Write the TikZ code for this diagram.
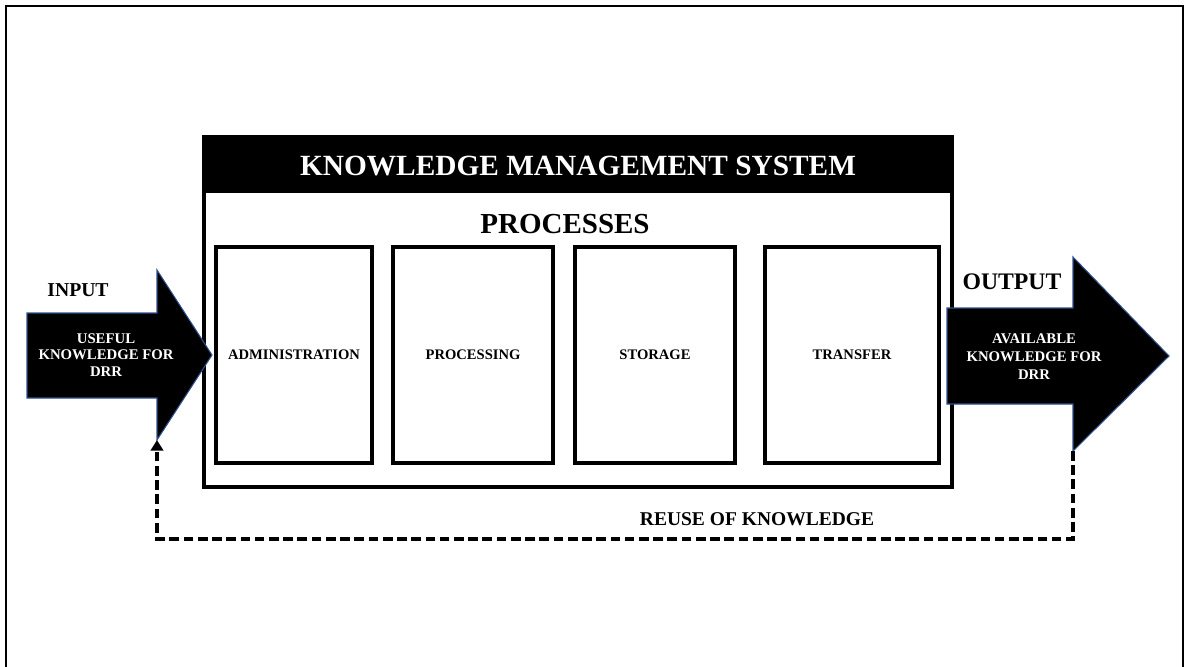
\documentclass[tikz,border=0pt]{standalone}
\usepackage{fontspec}
\setmainfont{Liberation Serif}
\usetikzlibrary{arrows.meta}

\definecolor{arrowedge}{RGB}{47,82,143}

\begin{document}
\begin{tikzpicture}[>=Latex, x=0.02cm, y=-0.02cm,
  procbox/.style={draw, line width=2pt, inner sep=0pt, minimum height=4.32cm},
  boxlabel/.style={font=\bfseries\fontsize{8.3}{10}\selectfont},
  arrowtext/.style={text=white, align=center, font=\bfseries\fontsize{8.4}{9.6}\selectfont},
  bigarrow/.style={fill=black, draw=arrowedge, line width=0.6pt},
  reuseline/.style={line width=2.1pt, dash pattern=on 5.5pt off 2.6pt}]

  \useasboundingbox (0,0) rectangle (1186,666);
  \draw[line width=1pt] (6,675) -- (6,6) -- (1183,6) -- (1183,675);


  \fill (204,137) rectangle (952,193);
  \draw[line width=2pt] (204,137) rectangle (952,487);

  \node[text=white, font=\bfseries\fontsize{16.7}{19}\selectfont] (kms) at (578,166) {KNOWLEDGE MANAGEMENT SYSTEM};
  \node[font=\bfseries\fontsize{16.5}{19}\selectfont] (proc) at (565,224) {PROCESSES};


  \node[procbox, minimum width=3.12cm] (admin) at (294,355) {};
  \node[procbox, minimum width=3.2cm] (processing) at (473,355) {};
  \node[procbox, minimum width=3.2cm] (storage) at (655,355) {};
  \node[procbox, minimum width=3.48cm] (transfer) at (852,355) {};

  \node[boxlabel] at (admin) {ADMINISTRATION};
  \node[boxlabel] at (processing) {PROCESSING};
  \node[boxlabel] at (storage) {STORAGE};
  \node[boxlabel] at (transfer) {TRANSFER};


  \draw[bigarrow] (27,313) -- (157,313) -- (157,270) -- (212,355) coordinate (intip)
    -- (157,440) coordinate (inbot) -- (157,398) -- (27,398) -- cycle;
  \node[arrowtext] (intext) at (106,355) {USEFUL\\KNOWLEDGE FOR\\DRR};
  \node[font=\bfseries\fontsize{11.2}{13}\selectfont] (inlabel) at (78,290) {INPUT};

  \draw[bigarrow] (947,308) -- (1073,308) -- (1073,257) -- (1169,356) coordinate (outtip)
    -- (1073,451) coordinate (outbot) -- (1073,404) -- (947,404) -- cycle;
  \node[arrowtext, font=\bfseries\fontsize{8.4}{10.2}\selectfont] (outtext) at (1034,357) {AVAILABLE\\KNOWLEDGE FOR\\DRR};
  \node[font=\bfseries\fontsize{13.5}{15}\selectfont] (outlabel) at (1012,282) {OUTPUT};


  \coordinate (loopcorner) at (157,539);
  \draw[reuseline, -{Triangle[width=7pt,length=6pt]}] (outbot) |- (loopcorner) -- (inbot);
  \node[font=\bfseries\fontsize{11.1}{13}\selectfont] (reuse) at (757,519) {REUSE OF KNOWLEDGE};

\end{tikzpicture}
\end{document}
